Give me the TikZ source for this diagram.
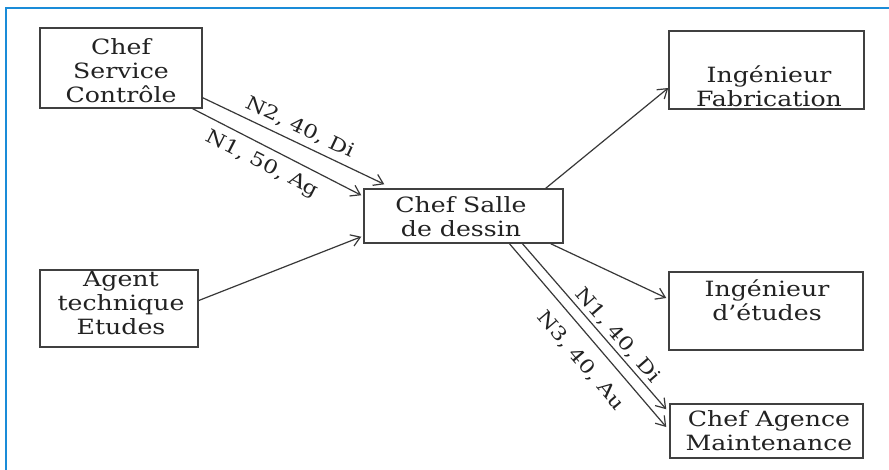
\documentclass[tikz,border=0pt]{standalone}
\usepackage{fontspec}
\setmainfont{DejaVu Serif}[FakeStretch=1.2]
\usetikzlibrary{arrows.meta,calc}
\definecolor{framec}{HTML}{1A8CD8}
\definecolor{boxc}{HTML}{404040}
\definecolor{linec}{HTML}{383838}
\definecolor{txtc}{HTML}{222222}
\begin{document}
\begin{tikzpicture}[x=1pt,y=-1pt,
  box/.style={draw=boxc,line width=1.5pt,inner sep=0pt},
  txt/.style={align=center,font=\fontsize{21}{24}\selectfont,text=txtc,inner sep=0pt},
  conn/.style={draw=linec,line width=1.2pt,-{Straight Barb[length=9pt,width=12pt]}},
  lab/.style={font=\fontsize{19}{22}\selectfont,text=txtc,sloped,inner sep=1pt},
  frameline/.style={draw=framec,line width=1.5pt}]
\useasboundingbox (0,0) rectangle (889,470);
\fill[white] (0,0) rectangle (889,470);
\draw[frameline] (6,470) -- (6,8) -- (889,8);

% boxes
\node[box,minimum width=162pt,minimum height=80pt] (csc) at (121,68) {};
\node[box,minimum width=158pt,minimum height=77pt] (ate) at (119,308.5) {};
\node[box,minimum width=199pt,minimum height=54pt] (csd) at (463.5,216) {};
\node[box,minimum width=195pt,minimum height=78pt] (ifab) at (766.5,70) {};
\node[box,minimum width=194pt,minimum height=78pt] (ide) at (766,311) {};
\node[box,minimum width=193pt,minimum height=54pt] (cam) at (766.5,431) {};

% texts
\node[txt] (csc-t) at (121,71) {Chef\\Service\\Contrôle};
\node[txt] (ate-t) at (121,303) {Agent\\technique\\Etudes};
\node[txt] (csd-t) at (461,217) {Chef Salle\\de dessin};
\node[txt] (ifab-t) at (769,86) {Ingénieur\\Fabrication};
\node[txt] (ide-t) at (767,300) {Ingénieur\\d'études};
\node[txt] (cam-t) at (769,431) {Chef Agence\\Maintenance};

% connectors
\draw[conn] ($(csc.south east)+(0,-11)$) -- node[lab,pos=0.5,above=5pt] {N2, 40, Di} ($(csd.north west)+(21,-4)$);
\draw[conn] ($(csc.south east)+(-10,0)$) -- node[lab,pos=0.46,below=7pt] {N1, 50, Ag} ($(csd.north west)+(-2,7)$);
\draw[conn] ($(ate.east)+(0,-8)$) -- ($(csd.south west)+(-2,-7)$);
\draw[conn] ($(csd.north east)+(-18,0)$) -- ($(ifab.west)+(0,18)$);
\draw[conn] ($(csd.south east)+(-13,0)$) -- ($(ide.west)+(-2,-13)$);
\draw[conn] ($(csd.south)+(59,0)$) -- node[lab,pos=0.6,above=2pt] {N1, 40, Di} ($(cam.north west)+(-3,6)$);
\draw[conn] ($(csd.south)+(46,0)$) -- node[lab,pos=0.56,below=12pt] {N3, 40, Au} ($(cam.west)+(-3,-4)$);
\end{tikzpicture}
\end{document}
